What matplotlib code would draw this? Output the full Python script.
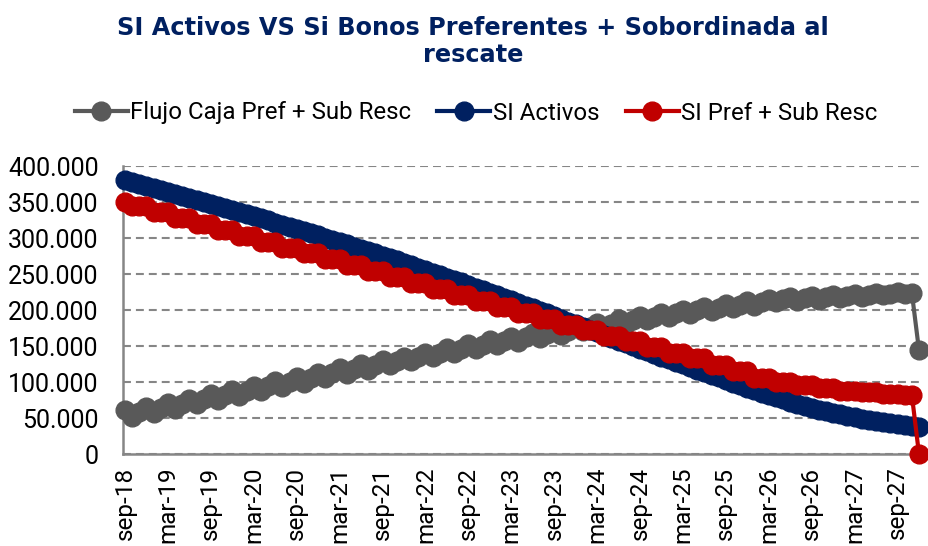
import matplotlib
matplotlib.use("Agg")
import matplotlib.pyplot as plt
import numpy as np
from matplotlib.lines import Line2D
from matplotlib.ticker import FuncFormatter

# monthly series, sep-18 .. dic-27, values in thousands
si_activos = [
    380.0, 377.3, 374.6, 371.9, 369.2, 366.5, 363.8, 361.1, 358.4, 355.7, 353.0, 350.3,
    347.6, 344.7, 341.8, 338.9, 336.0, 333.1, 330.2, 327.3, 324.4, 321.5, 318.6, 315.7,
    312.8, 309.7, 306.6, 303.5, 300.4, 297.3, 294.2, 291.1, 288.0, 284.9, 281.8, 278.7,
    275.6, 272.2, 268.8, 265.4, 262.0, 258.6, 255.2, 251.8, 248.4, 245.0, 241.6, 238.2,
    234.8, 231.2, 227.6, 224.0, 220.4, 216.8, 213.2, 209.6, 206.0, 202.4, 198.8, 195.2,
    191.6, 187.8, 184.0, 180.2, 176.4, 172.6, 168.8, 165.0, 161.2, 157.4, 153.6, 149.8,
    146.0, 142.4, 138.8, 135.2, 131.6, 128.0, 124.4, 120.8, 117.2, 113.6, 110.0, 106.4,
    102.8, 99.3, 95.8, 92.3, 88.8, 85.4, 82.0, 78.9, 75.8, 72.8, 69.9, 67.0,
    64.3, 61.8, 59.4, 57.1, 55.0, 53.0, 51.1, 49.3, 47.6, 46.0, 44.5, 43.1,
    41.8, 40.5, 39.2, 38.0,
]

si_pref_sub = [
    350, 344.5, 344.5, 344.5, 336.3, 336.3, 336.3, 328, 328, 328, 319.8, 319.8,
    319.8, 311.5, 311.5, 311.5, 303.3, 303.3, 303.3, 295, 295, 295, 286.8, 286.8,
    286.8, 278.5, 278.5, 278.5, 270.3, 270.3, 270.3, 262, 262, 262, 253.8, 253.8,
    253.8, 245.5, 245.5, 245.5, 237.3, 237.3, 237.3, 229, 229, 229, 220.8, 220.8,
    220.8, 212.5, 212.5, 212.5, 204.3, 204.3, 204.3, 196, 196, 196, 187.8, 187.8,
    187.8, 179.8, 179.8, 179.8, 172, 172, 172, 164.2, 164.2, 164.2, 156.4, 156.4,
    156.4, 148.6, 148.6, 148.6, 140.8, 140.8, 140.8, 133, 133, 133, 124, 124,
    124, 115, 115, 115, 106, 106, 106, 100, 100, 100, 95.5, 95.5,
    95.5, 91, 91, 91, 87.4, 87.4, 87.4, 85.6, 85.6, 85.6, 83.8, 83.8,
    83.8, 82, 82, 0,
]

flujo_caja = [
    61, 51, 58, 65, 57, 64, 71, 63, 70, 77, 69, 76,
    83, 75, 82, 89, 81, 88, 95, 87, 94, 101, 93, 100,
    107, 99, 106, 113, 105, 112, 119, 110.8, 117.8, 124.8, 116.5, 123.5,
    130.5, 123.2, 129.2, 135.2, 128.9, 134.9, 140.9, 134.6, 140.6, 146.6, 140.3, 146.3,
    152.3, 146, 152, 158, 151.1, 157.1, 163.1, 155.9, 161.9, 167.9, 160.7, 166.7,
    172.7, 165.5, 171.5, 177.5, 170.3, 176.3, 182.3, 175.1, 181.1, 187.1, 179.9, 185.9,
    191.9, 185.7, 190.7, 195.7, 190.5, 195.5, 200.5, 194.6, 199.6, 204.6, 198.4, 203.4,
    208.4, 202.1, 207.1, 212.1, 205.9, 210.9, 215.9, 211.1, 214.6, 218.1, 212.8, 216.3,
    219.8, 214.4, 217.9, 221.4, 217.1, 219.6, 222.1, 218.7, 221.2, 223.7, 220.3, 222.8,
    225.3, 221.6, 224.1, 144,
]

tick_labels = ["sep-18", "mar-19", "sep-19", "mar-20", "sep-20", "mar-21", "sep-21",
               "mar-22", "sep-22", "mar-23", "sep-23", "mar-24", "sep-24", "mar-25",
               "sep-25", "mar-26", "sep-26", "mar-27", "sep-27"]

GRAY = "#595959"
NAVY = "#002060"
RED = "#C00000"
AXIS = "#868686"

x = np.arange(len(si_activos))

fig = plt.figure(figsize=(9.29, 5.46), dpi=100)
ax = fig.add_axes([123 / 929, 92 / 546, 798 / 929, 288 / 546])

ms = 13.5
lw = 3
ax.plot(x, np.array(flujo_caja) * 1000, color=GRAY, lw=lw, marker="o", ms=ms, zorder=3, clip_on=False)
ax.plot(x, np.array(si_activos) * 1000, color=NAVY, lw=lw, marker="o", ms=ms, zorder=4, clip_on=False)
ax.plot(x, np.array(si_pref_sub) * 1000, color=RED, lw=lw, marker="o", ms=ms, zorder=5, clip_on=False)

ax.set_ylim(0, 400000)
ax.set_xlim(-0.28, len(x) - 1 + 0.28)
ax.set_yticks(np.arange(0, 400001, 50000))
ax.yaxis.set_major_formatter(FuncFormatter(lambda v, p: "0" if v == 0 else f"{v:,.0f}".replace(",", ".")))
ax.set_xticks(np.arange(0, 6 * len(tick_labels), 6))
ax.set_xticklabels(tick_labels, rotation=90)

ax.yaxis.grid(True, color=AXIS, lw=1.5, linestyle=(0, (3.8, 2.4)))
ax.set_axisbelow(True)
for s in ["top", "right"]:
    ax.spines[s].set_visible(False)
for s in ["left", "bottom"]:
    ax.spines[s].set_color(AXIS)
    ax.spines[s].set_linewidth(1.8)
    ax.spines[s].set_zorder(2)

ax.tick_params(axis="both", length=0, labelcolor="black")
ax.tick_params(axis="y", pad=17.5, labelsize=18)
ax.tick_params(axis="x", pad=9, labelsize=17.5)
for lab in ax.get_xticklabels() + ax.get_yticklabels():
    lab.set_family("Roboto")

fig.text(473 / 929, 1 - 16 / 546,
         "SI Activos VS Si Bonos Preferentes + Sobordinada al\nrescate",
         ha="center", va="top", fontsize=17.3, weight="bold", color=NAVY,
         family="DejaVu Sans", linespacing=1.17)

handles = [
    Line2D([], [], color=GRAY, lw=lw, marker="o", ms=ms),
    Line2D([], [], color=NAVY, lw=lw, marker="o", ms=ms),
    Line2D([], [], color=RED, lw=lw, marker="o", ms=ms),
]
fig.legend(handles, ["Flujo Caja Pref + Sub Resc", "SI Activos", "SI Pref + Sub Resc"],
           loc="center", bbox_to_anchor=(476 / 929, 1 - 113 / 546), ncol=3,
           frameon=False, handlelength=2.2, handletextpad=0.1, columnspacing=1.1,
           prop={"family": "Roboto", "size": 17.3})

fig.savefig("out.png", dpi=100)
